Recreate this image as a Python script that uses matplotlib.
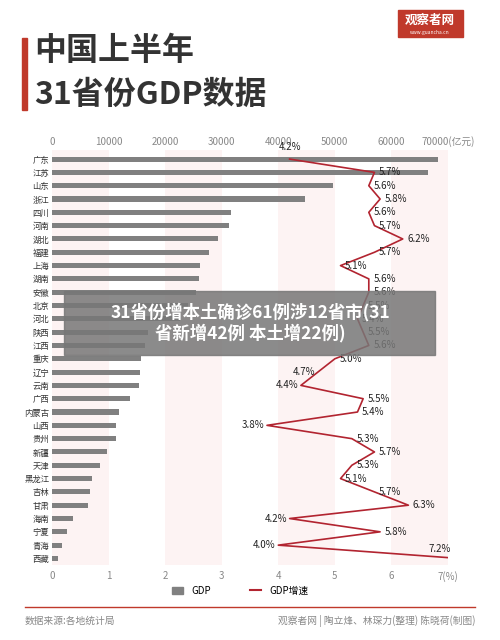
import matplotlib
matplotlib.use("Agg")
import matplotlib.pyplot as plt
from matplotlib.patches import Rectangle
from matplotlib.lines import Line2D

plt.rcParams['font.family'] = ['Noto Sans CJK SC', 'DejaVu Sans']

provinces = ["广东","江苏","山东","浙江","四川","河南","湖北","福建","上海","湖南","安徽","北京","河北","陕西","江西",
             "重庆","辽宁","云南","广西","内蒙古","山西","贵州","新疆","天津","黑龙江","吉林","甘肃","海南","宁夏","青海","西藏"]
gdp = [68200,66500,49700,44700,31600,31300,29400,27700,26100,25900,25400,24000,22700,16900,16500,
       15700,15500,15400,13700,11900,11400,11300,9700,8500,7000,6700,6300,3700,2600,1800,1100]
growth = [4.2,5.7,5.6,5.8,5.6,5.7,6.2,5.7,5.1,5.6,5.6,5.5,5.4,5.5,5.6,5.0,4.7,4.4,5.5,5.4,3.8,5.3,5.7,5.3,5.1,5.7,6.3,4.2,5.8,4.0,7.2]
top_ticks = [0,10000,20000,30000,40000,50000,60000,70000]
bottom_ticks = [0,1,2,3,4,5,6,7]

fig = plt.figure(figsize=(5,6.4), dpi=100)
fig.patch.set_facecolor('white')

# header
fig.add_artist(Rectangle((0.044,0.828),0.01,0.112,transform=fig.transFigure,color='#c0392b'))
fig.text(0.068,0.92,"中国上半年",fontsize=23,fontweight='bold',color='#333333',va='center')
fig.text(0.068,0.852,"31省份GDP数据",fontsize=23,fontweight='bold',color='#333333',va='center')
fig.add_artist(Rectangle((0.795,0.942),0.13,0.042,transform=fig.transFigure,color='#c0392b'))
fig.text(0.86,0.968,"观察者网",fontsize=9,color='white',ha='center',va='center',fontweight='bold')
fig.text(0.86,0.949,"www.guancha.cn",fontsize=3.5,color='white',ha='center',va='center')

ax = fig.add_axes([0.104,0.117,0.792,0.649])
n = len(provinces)
y = list(range(n))
for i in range(0,7,2):
    ax.axvspan(i*10000,(i+1)*10000,color='#fdf3f3',zorder=0,lw=0)
ax.barh(y,gdp,height=0.38,color='#808080',zorder=2)
gx = [g*10000 for g in growth]
ax.plot(gx,y,color='#b22430',lw=1.2,zorder=3)
for i,(g,xx) in enumerate(zip(growth,gx)):
    if i == 0:
        ax.text(xx, i-0.55, f"{g:.1f}%", fontsize=7, ha='center', va='bottom', color='#222')
    elif i == n-1:
        ax.text(xx-1500, i-0.3, f"{g:.1f}%", fontsize=7, ha='right', va='bottom', color='#222')
    elif g < 4.9:
        ax.text(xx-500, i, f"{g:.1f}%", fontsize=7, ha='right', va='center', color='#222')
    else:
        ax.text(xx+800, i, f"{g:.1f}%", fontsize=7, ha='left', va='center', color='#222')
ax.set_ylim(n-0.5,-0.7)
ax.set_xlim(0,70000)
ax.set_yticks(y)
ax.set_yticklabels(provinces,fontsize=6,color='#333')
ax.tick_params(length=0,pad=2)
for s in ax.spines.values():
    s.set_visible(False)
ax2 = ax.twiny()
ax2.set_xlim(0,7)
ax2.xaxis.tick_bottom()
ax2.set_xticks(bottom_ticks)
ax2.set_xticklabels([str(t) for t in bottom_ticks[:-1]]+["7(%)"],fontsize=7,color='#888')
ax2.tick_params(length=0,pad=4)
for s in ax2.spines.values():
    s.set_visible(False)
ax.xaxis.tick_top()
ax.set_xticks(top_ticks)
ax.set_xticklabels([str(t) for t in top_ticks[:-1]]+["70000(亿元)"],fontsize=7,color='#888')
ax.tick_params(axis='x',length=0,pad=2)

# legend
fig.legend(handles=[Rectangle((0,0),1,1,color='#808080'),Line2D([0],[0],color='#b22430',lw=1.5)],
           labels=['GDP','GDP增速'],loc='center',bbox_to_anchor=(0.48,0.077),ncol=2,frameon=False,
           fontsize=7,handlelength=1.2,columnspacing=4)
fig.add_artist(Line2D([0.05,0.95],[0.052,0.052],transform=fig.transFigure,color='#c0392b',lw=1))
fig.text(0.05,0.03,"数据来源:各地统计局",fontsize=7,color='#888',va='center')
fig.text(0.95,0.03,"观察者网 | 陶立烽、林琛力(整理) 陈晓荷(制图)",fontsize=7,color='#888',va='center',ha='right')

# overlay caption
fig.add_artist(Rectangle((0.128,0.446),0.742,0.1,transform=fig.transFigure,color='#777777',alpha=0.85,zorder=10))
fig.text(0.5,0.496,"31省份增本土确诊61例涉12省市(31\n省新增42例 本土增22例)",fontsize=12.5,fontweight='bold',
         color='white',ha='center',va='center',zorder=11,linespacing=1.1)

fig.savefig("out.png",dpi=100)
